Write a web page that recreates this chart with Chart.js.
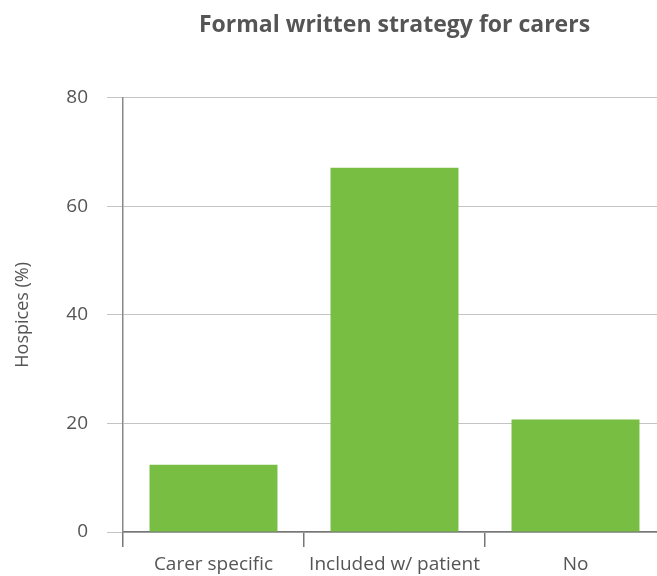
<!DOCTYPE html>
<html>
<head>
<meta charset="utf-8">
<script src="https://cdn.jsdelivr.net/npm/chart.js@4/dist/chart.umd.min.js"></script>
<style>
  html, body { margin: 0; padding: 0; background: #fff; overflow: hidden; }
  #wrap { width: 670px; height: 576px; }
</style>
</head>
<body>
<div id="wrap"><canvas id="c" width="670" height="576"></canvas></div>
<script>
const titleText = 'Formal written strategy for carers';
const categories = ['Carer specific', 'Included w/ patient', 'No'];
const values = [12.4, 67.1, 20.7];
const yTicks = [0, 20, 40, 60, 80];
const yTitle = 'Hospices (%)';

const FONT = "'Open Sans', sans-serif";
const TEXT = '#555555';

new Chart(document.getElementById('c'), {
  type: 'bar',
  data: {
    labels: categories,
    datasets: [{
      data: values,
      backgroundColor: '#77be43',
      borderWidth: 0,
      barPercentage: 0.707,
      categoryPercentage: 1.0
    }]
  },
  options: {
    responsive: false,
    animation: false,
    layout: { padding: { left: 0, right: 4, top: 0, bottom: 0 } },
    plugins: {
      legend: { display: false },
      tooltip: { enabled: false },
      title: {
        display: true,
        text: titleText,
        fullSize: false,
        color: '#555555',
        font: { family: FONT, size: 23, weight: 'bold' },
        padding: { top: 12, bottom: 58 }
      }
    },
    scales: {
      x: {
        offset: true,
        border: { display: true, color: '#777777', width: 1.5 },
        grid: { display: true, drawOnChartArea: false, drawTicks: true, tickLength: 15, color: '#777777', lineWidth: 1.5, offset: true },
        ticks: { color: TEXT, font: { family: FONT, size: 19 }, padding: 6, maxRotation: 0 },
        afterFit: (s) => { s.height = 44; }
      },
      y: {
        min: 0,
        max: 80,
        afterBuildTicks: (s) => { s.ticks = yTicks.map(v => ({ value: v })); },
        border: { display: true, color: '#888888', width: 1.5 },
        grid: { color: '#c4c4c4', lineWidth: 1, tickLength: 16, drawTicks: true },
        ticks: { color: TEXT, font: { family: FONT, size: 19 }, padding: 19 },
        title: { display: true, text: yTitle, color: TEXT, font: { family: FONT, size: 18 }, padding: { top: 12, bottom: 0 } },
        afterFit: (s) => { s.width = 123; }
      }
    }
  }
});
</script>
</body>
</html>
